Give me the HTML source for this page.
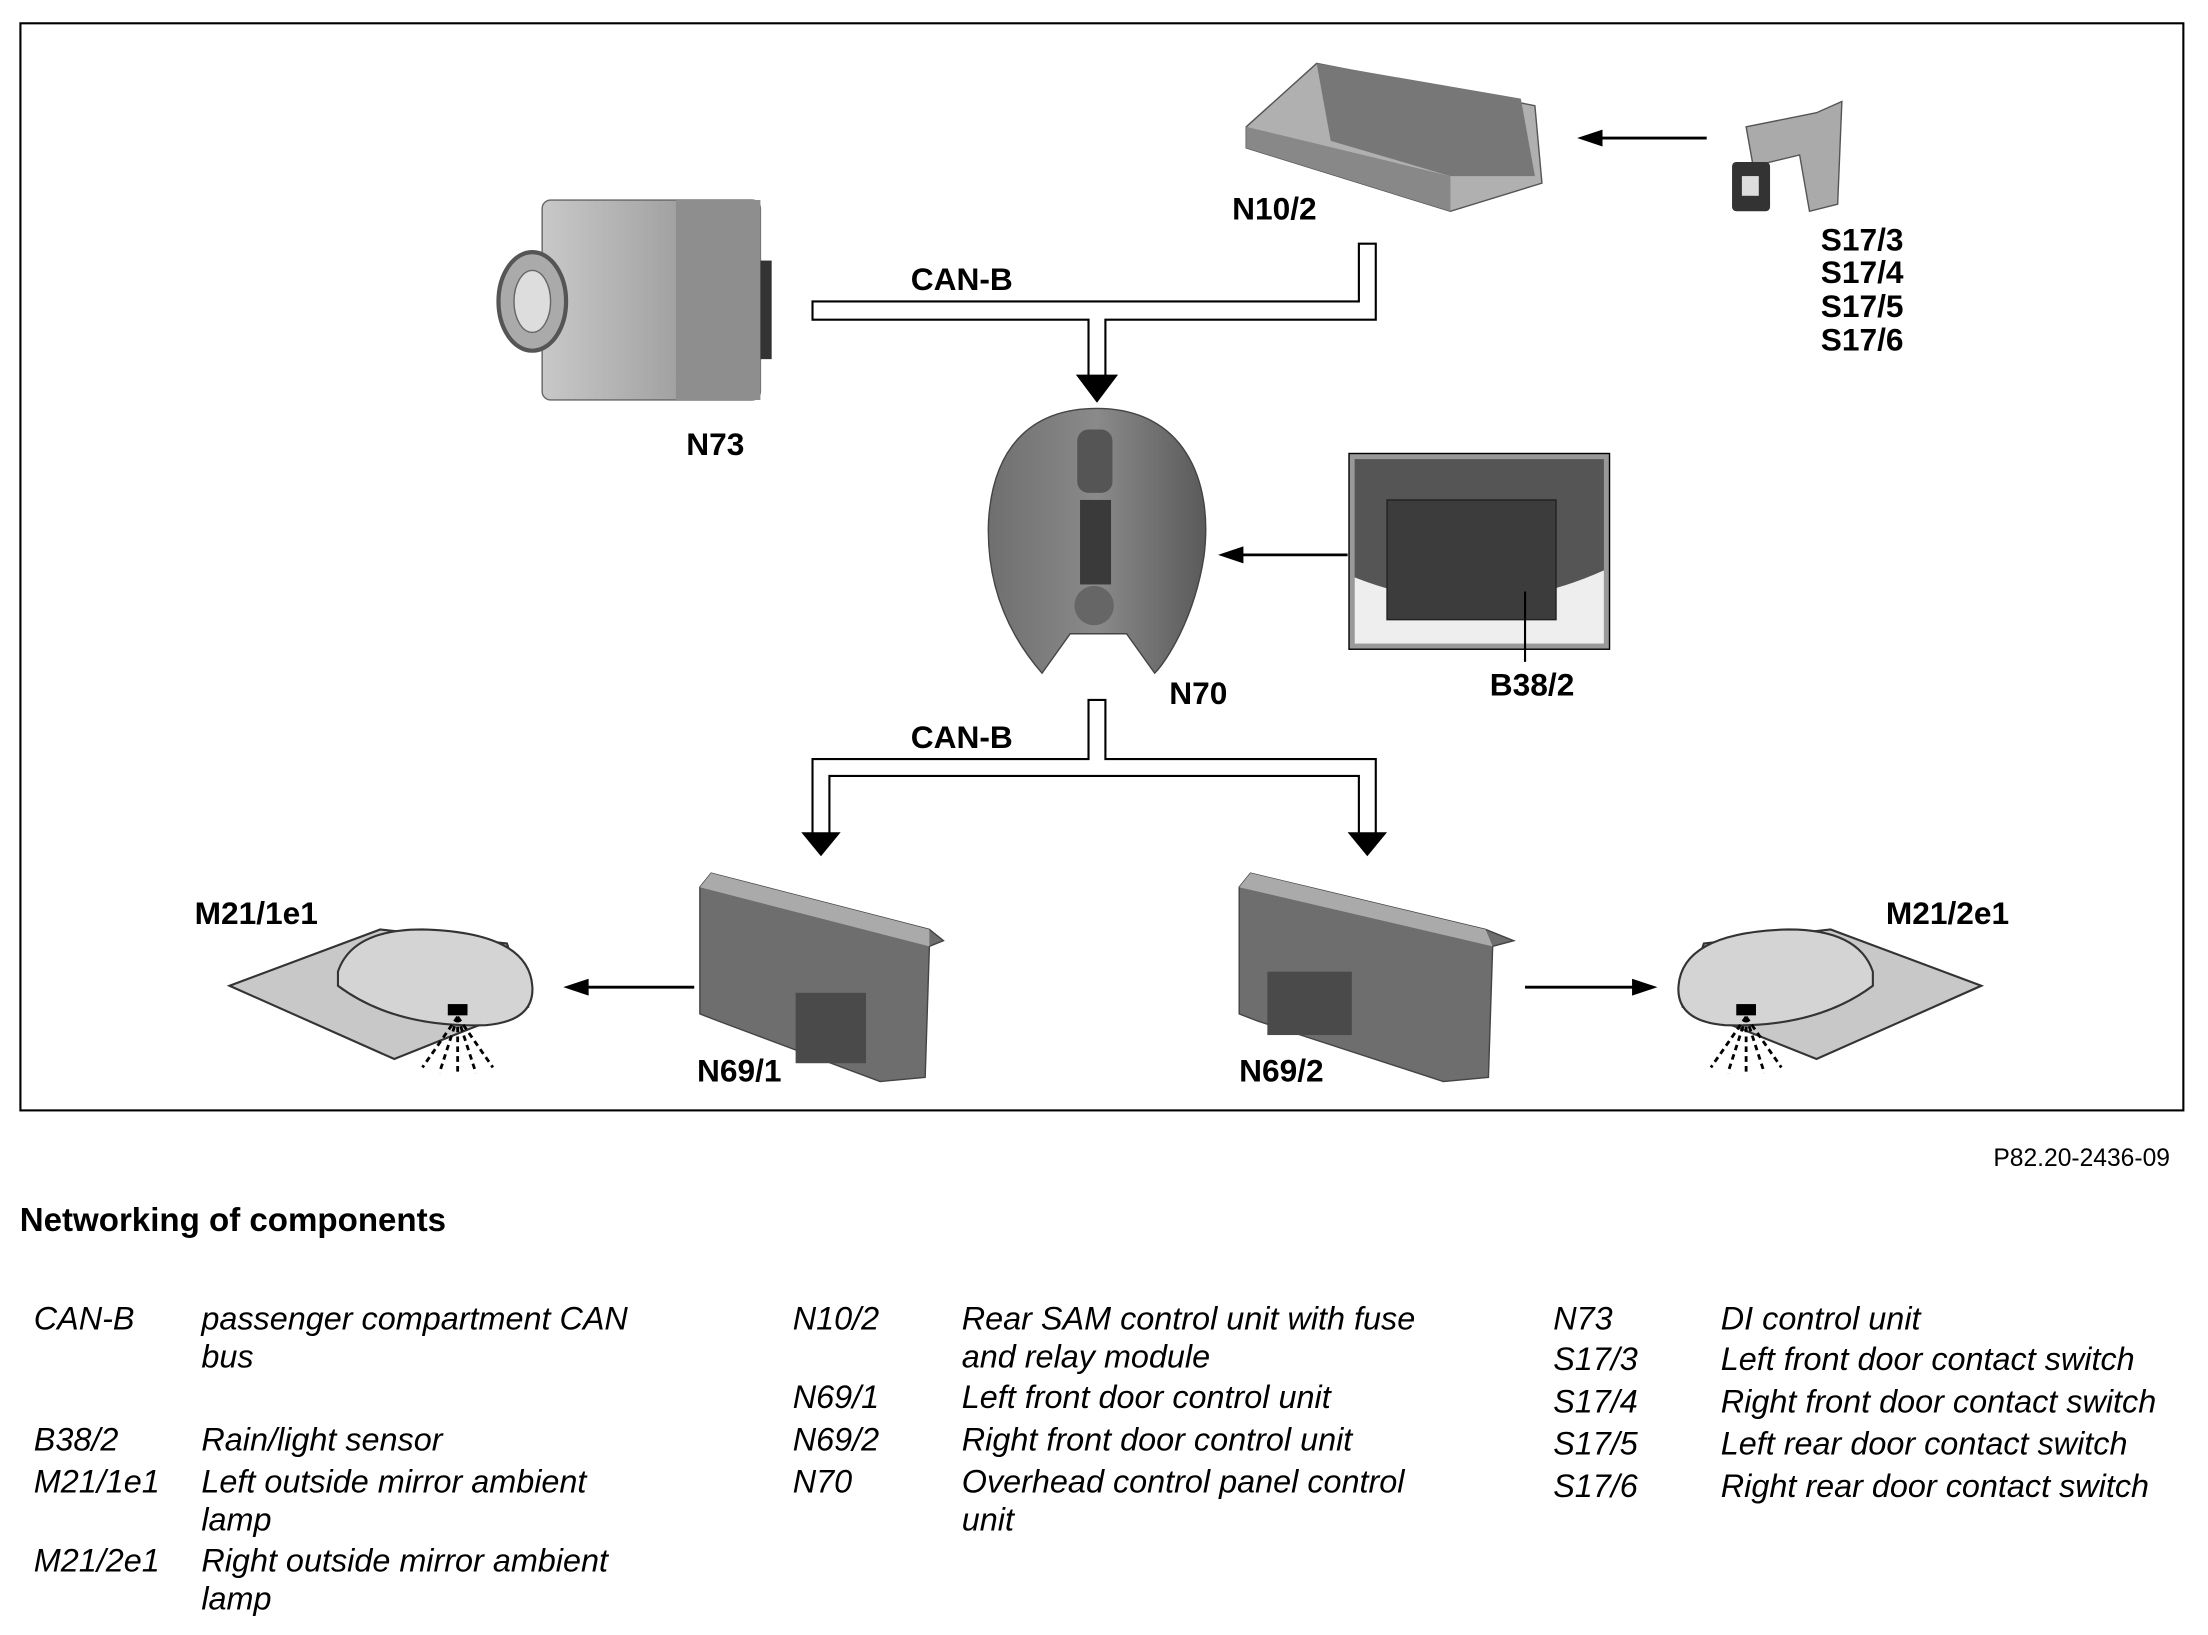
<!DOCTYPE html>
<html><head><meta charset="utf-8"><style>
html,body{margin:0;padding:0;background:#fff;}
svg{display:block;}
.b{font-family:"Liberation Sans",sans-serif;font-weight:bold;font-size:22.5px;fill:#000;}
.l{font-family:"Liberation Sans",sans-serif;font-style:italic;font-size:23px;fill:#000;}
</style></head><body>
<svg width="2208" height="1635" viewBox="0 0 1568 1161" xmlns="http://www.w3.org/2000/svg">
<defs>
<linearGradient id="g1" x1="0" x2="1"><stop offset="0" stop-color="#c8c8c8"/><stop offset="1" stop-color="#8a8a8a"/></linearGradient>
<linearGradient id="g2" x1="0" x2="1"><stop offset="0" stop-color="#6f6f6f"/><stop offset="0.5" stop-color="#8a8a8a"/><stop offset="1" stop-color="#5a5a5a"/></linearGradient>
</defs>
<rect x="14.5" y="16.5" width="1536" height="772" fill="#fff" stroke="#000" stroke-width="1.5"/>

<!-- top bus -->
<path d="M577,214 L965,214 L965,173 L977,173 L977,227 L785,227 L785,268 L773,268 L773,227 L577,227 Z" fill="#fff" stroke="#000" stroke-width="1.5"/>
<polygon points="764,266 794,266 779,286" fill="#000"/>
<!-- bottom bus -->
<path d="M773,497 L785,497 L785,539 L977,539 L977,592 L965,592 L965,551 L589,551 L589,592 L577,592 L577,539 L773,539 Z" fill="#fff" stroke="#000" stroke-width="1.5"/>
<polygon points="569,591 597,591 583,608" fill="#000"/>
<polygon points="957,591 985,591 971,608" fill="#000"/>

<!-- single arrows -->
<g stroke="#000" stroke-width="2">
<line x1="1212" y1="98" x2="1135" y2="98"/>
<line x1="957" y1="394" x2="880" y2="394"/>
<line x1="493" y1="701" x2="415" y2="701"/>
<line x1="1083" y1="701" x2="1162" y2="701"/>
</g>
<polygon points="1120,98 1138,92 1138,104" fill="#000"/>
<polygon points="865,394 883,388 883,400" fill="#000"/>
<polygon points="400,701 418,695 418,707" fill="#000"/>
<polygon points="1177,701 1159,695 1159,707" fill="#000"/>

<!-- N73 -->
<rect x="385" y="142" width="155" height="142" rx="6" fill="url(#g1)" stroke="#666"/>
<rect x="480" y="142" width="60" height="142" fill="#8e8e8e"/>
<ellipse cx="378" cy="214" rx="24" ry="35" fill="#aaa" stroke="#555" stroke-width="3"/>
<ellipse cx="378" cy="214" rx="13" ry="22" fill="#ddd" stroke="#666"/>
<rect x="540" y="185" width="8" height="70" fill="#333"/>

<!-- N10/2 -->
<polygon points="885,90 935,45 1090,75 1095,130 1030,150 885,105" fill="#b0b0b0" stroke="#555"/>
<polygon points="885,90 1030,125 1030,150 885,105" fill="#888"/>
<polygon points="935,45 1080,70 1090,125 1030,125 945,100" fill="#777"/>

<!-- S17 -->
<polygon points="1240,90 1290,80 1308,72 1305,145 1285,150 1278,110 1245,118" fill="#aaa" stroke="#555"/>
<rect x="1230" y="115" width="27" height="35" rx="3" fill="#333"/>
<rect x="1237" y="125" width="12" height="14" fill="#ddd"/>

<!-- N70 -->
<path d="M779,290 C840,290 862,340 855,395 C848,440 828,470 820,478 L800,450 L760,450 L740,478 C720,455 700,420 702,370 C705,320 730,290 779,290 Z" fill="url(#g2)" stroke="#444"/>
<rect x="765" y="305" width="25" height="45" rx="8" fill="#555"/>
<rect x="767" y="355" width="22" height="60" fill="#3a3a3a"/>
<circle cx="777" cy="430" r="14" fill="#666"/>

<!-- B38/2 -->
<rect x="958" y="322" width="185" height="139" fill="#999" stroke="#000"/>
<rect x="962" y="326" width="177" height="131" fill="#555"/>
<path d="M962,410 Q1050,445 1139,405 L1139,457 L962,457 Z" fill="#eee"/>
<rect x="985" y="355" width="120" height="85" fill="#3c3c3c" stroke="#222"/>
<line x1="1083" y1="420" x2="1083" y2="470" stroke="#000" stroke-width="1.5"/>

<!-- N69/1 -->
<polygon points="497,630 505,620 660,660 670,668 660,672 657,765 625,768 510,725 497,720" fill="#6e6e6e" stroke="#444"/>
<polygon points="497,630 505,620 660,660 660,672" fill="#aaa"/>
<rect x="565" y="705" width="50" height="50" fill="#4a4a4a"/>
<!-- N69/2 -->
<polygon points="880,630 888,620 1055,660 1075,668 1060,672 1057,765 1025,768 893,725 880,720" fill="#6e6e6e" stroke="#444"/>
<polygon points="880,630 888,620 1055,660 1060,672" fill="#aaa"/>
<rect x="900" y="690" width="60" height="45" fill="#4a4a4a"/>

<!-- mirrors -->
<polygon points="163,700 270,660 360,670 375,715 335,730 280,752" fill="#c8c8c8" stroke="#333" stroke-width="1.5"/>
<path d="M240,690 Q250,660 300,660 Q375,662 378,700 Q380,725 345,728 Q280,730 240,700 Z" fill="#d4d4d4" stroke="#333" stroke-width="1.5"/>
<rect x="318" y="713" width="14" height="8" fill="#000"/>
<g stroke="#000" stroke-width="2" stroke-dasharray="4,3">
<line x1="325" y1="722" x2="300" y2="758"/><line x1="325" y1="722" x2="312" y2="762"/><line x1="325" y1="722" x2="325" y2="764"/><line x1="325" y1="722" x2="338" y2="762"/><line x1="325" y1="722" x2="350" y2="758"/>
</g>
<polygon points="1407,700 1300,660 1210,670 1195,715 1235,730 1290,752" fill="#c8c8c8" stroke="#333" stroke-width="1.5"/>
<path d="M1330,690 Q1320,660 1270,660 Q1195,662 1192,700 Q1190,725 1225,728 Q1290,730 1330,700 Z" fill="#d4d4d4" stroke="#333" stroke-width="1.5"/>
<rect x="1233" y="713" width="14" height="8" fill="#000"/>
<g stroke="#000" stroke-width="2" stroke-dasharray="4,3">
<line x1="1240" y1="722" x2="1215" y2="758"/><line x1="1240" y1="722" x2="1227" y2="762"/><line x1="1240" y1="722" x2="1240" y2="764"/><line x1="1240" y1="722" x2="1253" y2="762"/><line x1="1240" y1="722" x2="1265" y2="758"/>
</g>

<!-- labels -->
<g class="b">
<text x="683" y="206" text-anchor="middle">CAN-B</text>
<text x="905" y="156" text-anchor="middle">N10/2</text>
<text x="1293" y="178">S17/3</text>
<text x="1293" y="201">S17/4</text>
<text x="1293" y="225">S17/5</text>
<text x="1293" y="249">S17/6</text>
<text x="508" y="323" text-anchor="middle">N73</text>
<text x="851" y="500" text-anchor="middle">N70</text>
<text x="1088" y="494" text-anchor="middle">B38/2</text>
<text x="683" y="531" text-anchor="middle">CAN-B</text>
<text x="182" y="656" text-anchor="middle">M21/1e1</text>
<text x="525" y="768" text-anchor="middle">N69/1</text>
<text x="910" y="768" text-anchor="middle">N69/2</text>
<text x="1383" y="656" text-anchor="middle">M21/2e1</text>
</g>
<text x="1541" y="828" text-anchor="end" font-family="Liberation Sans, sans-serif" font-size="17.5">P82.20-2436-09</text>
<text x="14" y="874" font-family="Liberation Sans, sans-serif" font-weight="bold" font-size="23.5">Networking of components</text>

<g class="l">
<text x="24" y="944">CAN-B</text><text x="143" y="944">passenger compartment CAN</text>
<text x="143" y="971">bus</text>
<text x="24" y="1030">B38/2</text><text x="143" y="1030">Rain/light sensor</text>
<text x="24" y="1060">M21/1e1</text><text x="143" y="1060">Left outside mirror ambient</text>
<text x="143" y="1087">lamp</text>
<text x="24" y="1116">M21/2e1</text><text x="143" y="1116">Right outside mirror ambient</text>
<text x="143" y="1143">lamp</text>

<text x="563" y="944">N10/2</text><text x="683" y="944">Rear SAM control unit with fuse</text>
<text x="683" y="971">and relay module</text>
<text x="563" y="1000">N69/1</text><text x="683" y="1000">Left front door control unit</text>
<text x="563" y="1030">N69/2</text><text x="683" y="1030">Right front door control unit</text>
<text x="563" y="1060">N70</text><text x="683" y="1060">Overhead control panel control</text>
<text x="683" y="1087">unit</text>

<text x="1103" y="944">N73</text><text x="1222" y="944">DI control unit</text>
<text x="1103" y="973">S17/3</text><text x="1222" y="973">Left front door contact switch</text>
<text x="1103" y="1003">S17/4</text><text x="1222" y="1003">Right front door contact switch</text>
<text x="1103" y="1033">S17/5</text><text x="1222" y="1033">Left rear door contact switch</text>
<text x="1103" y="1063">S17/6</text><text x="1222" y="1063">Right rear door contact switch</text>
</g>
</svg>
</body></html>
